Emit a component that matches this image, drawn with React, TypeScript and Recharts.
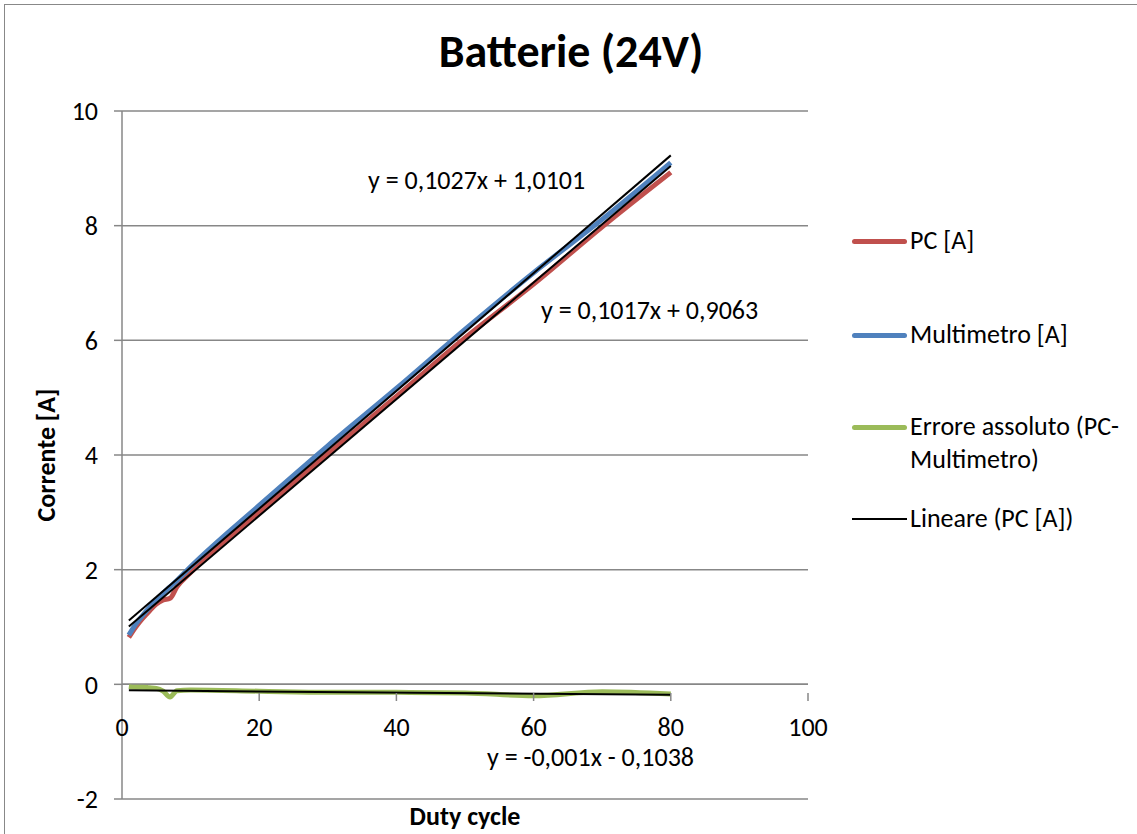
import React from "react";
import {
  LineChart,
  Line,
  XAxis,
  YAxis,
  CartesianGrid,
  ReferenceLine,
} from "recharts";

const FONT = "Carlito, Calibri, Lato, sans-serif";

// duty cycle steps used for the measurements
const dutyCycle = [1, 2, 3, 4, 5, 6, 7, 8, 10, 20, 30, 40, 50, 60, 70, 80];
const pcAmps = [0.82, 1.0, 1.15, 1.28, 1.4, 1.47, 1.5, 1.7, 1.95, 3.0, 4.02, 5.02, 6.04, 6.98, 7.98, 8.93];
const multimetroAmps = [0.86, 1.05, 1.2, 1.34, 1.47, 1.59, 1.7, 1.81, 2.05, 3.12, 4.16, 5.16, 6.19, 7.18, 8.11, 9.1];
const erroreAmps = [-0.04, -0.05, -0.05, -0.06, -0.07, -0.12, -0.22, -0.11, -0.1, -0.12, -0.14, -0.14, -0.15, -0.2, -0.13, -0.17];

// trend line coefficients [slope, intercept]
const trendMulti = [0.1027, 1.0101];
const trendPc = [0.1017, 0.9063];
const trendErr = [-0.001, -0.1038];
const trendRange = [1, 80];

const xTicks = [0, 20, 40, 60, 80, 100];
const yTicks = [-2, 0, 2, 4, 6, 8, 10];

const data = dutyCycle.map((d, i) => ({
  duty: d,
  pc: pcAmps[i],
  multi: multimetroAmps[i],
  err: erroreAmps[i],
}));

const trendPoints = (c: number[]) =>
  trendRange.map((x) => ({ duty: x, t: c[0] * x + c[1] }));

const GRID = "#878787";
const AXIS_DROP = 114; // px between the x=0 crossing and the plot bottom

function XTick(props: any) {
  const { x, y, payload } = props;
  const y0 = y - AXIS_DROP;
  return (
    <g>
      {payload.value !== 0 && (
        <line x1={x} x2={x} y1={y0} y2={y0 + 8} stroke={GRID} strokeWidth={1.5} />
      )}
      <text x={x} y={y0 + 43} textAnchor="middle" fontFamily={FONT} fontSize={26} fill="#000">
        {payload.value}
      </text>
    </g>
  );
}

const legendItems = [
  { label: "PC [A]", color: "#C0504D", w: 5, mid: 241 },
  { label: "Multimetro [A]", color: "#4F81BD", w: 5, mid: 335 },
  { label: "Errore assoluto (PC-\nMultimetro)", color: "#9BBB59", w: 5, mid: 427 },
  { label: "Lineare (PC [A])", color: "#000000", w: 2, mid: 519 },
];

const equations = [
  { text: "y = 0,1027x + 1,0101", left: 368, mid: 180 },
  { text: "y = 0,1017x + 0,9063", left: 541, mid: 310 },
  { text: "y = -0,001x - 0,1038", left: 487, mid: 757 },
];

export default function App() {
  return (
    <div
      style={{
        position: "absolute",
        left: 0,
        top: 0,
        width: 1137,
        height: 834,
        background: "#fff",
        overflow: "hidden",
        fontFamily: FONT,
      }}
    >
      <div
        style={{
          position: "absolute",
          left: 4,
          top: 4,
          width: 1140,
          height: 840,
          border: "1.5px solid #888",
          boxSizing: "border-box",
        }}
      />
      <LineChart
        width={1137}
        height={834}
        data={data}
        margin={{ top: 111, right: 329, bottom: 5, left: 82 }}
        style={{ position: "absolute", left: 0, top: 0 }}
      >
        <CartesianGrid vertical={false} stroke={GRID} strokeWidth={1.5} />
        <XAxis
          dataKey="duty"
          type="number"
          domain={[0, 100]}
          ticks={xTicks}
          axisLine={false}
          tickLine={false}
          tick={<XTick />}
          height={30}
        />
        <YAxis
          type="number"
          domain={[-2, 10]}
          ticks={yTicks}
          width={40}
          axisLine={{ stroke: GRID, strokeWidth: 1.5 }}
          tickLine={{ stroke: GRID, strokeWidth: 1.5 }}
          tickSize={8}
          tickMargin={16}
          tick={{ fontFamily: FONT, fontSize: 26, fill: "#000" }}
          interval={0}
        />
        <ReferenceLine y={0} stroke={GRID} strokeWidth={1.5} />
        <Line
          dataKey="pc"
          type="monotone"
          stroke="#C0504D"
          strokeWidth={5}
          dot={false}
          isAnimationActive={false}
        />
        <Line
          dataKey="multi"
          type="monotone"
          stroke="#4F81BD"
          strokeWidth={5}
          dot={false}
          isAnimationActive={false}
        />
        <Line
          dataKey="err"
          type="monotone"
          stroke="#9BBB59"
          strokeWidth={5}
          dot={false}
          isAnimationActive={false}
        />
        <Line
          data={trendPoints(trendMulti)}
          dataKey="t"
          stroke="#000"
          strokeWidth={2}
          dot={false}
          isAnimationActive={false}
        />
        <Line
          data={trendPoints(trendPc)}
          dataKey="t"
          stroke="#000"
          strokeWidth={2}
          dot={false}
          isAnimationActive={false}
        />
        <Line
          data={trendPoints(trendErr)}
          dataKey="t"
          stroke="#000"
          strokeWidth={2}
          dot={false}
          isAnimationActive={false}
        />
      </LineChart>

      <div
        style={{
          position: "absolute",
          left: 0,
          width: 1137,
          top: 28,
          textAlign: "center",
          fontSize: 46,
          lineHeight: "46px",
          fontWeight: 700,
          paddingLeft: 5,
          boxSizing: "border-box",
        }}
      >
        Batterie (24V)
      </div>

      <div
        style={{
          position: "absolute",
          left: 46,
          top: 455,
          transform: "translate(-50%, -50%) rotate(-90deg)",
          fontSize: 26,
          fontWeight: 700,
          whiteSpace: "nowrap",
        }}
      >
        Corrente [A]
      </div>
      <div
        style={{
          position: "absolute",
          left: 465,
          top: 816,
          transform: "translate(-50%, -50%)",
          fontSize: 26,
          fontWeight: 700,
          whiteSpace: "nowrap",
        }}
      >
        Duty cycle
      </div>

      {equations.map((e) => (
        <div
          key={e.text}
          style={{
            position: "absolute",
            left: e.left,
            top: e.mid - 13.5,
            fontSize: 26,
            lineHeight: "26px",
            whiteSpace: "nowrap",
          }}
        >
          {e.text}
        </div>
      ))}

      {legendItems.map((it) => (
        <div key={it.label} style={{ position: "absolute", left: 852, top: it.mid - 17 }}>
          <div
            style={{
              position: "absolute",
              left: 0,
              top: 17 - it.w / 2,
              width: 55,
              height: it.w,
              background: it.color,
              borderRadius: it.w > 2 ? 2.5 : 0,
            }}
          />
          <div
            style={{
              position: "absolute",
              left: 58,
              top: 0,
              fontSize: 26,
              lineHeight: "33px",
              whiteSpace: "pre",
            }}
          >
            {it.label}
          </div>
        </div>
      ))}
    </div>
  );
}
